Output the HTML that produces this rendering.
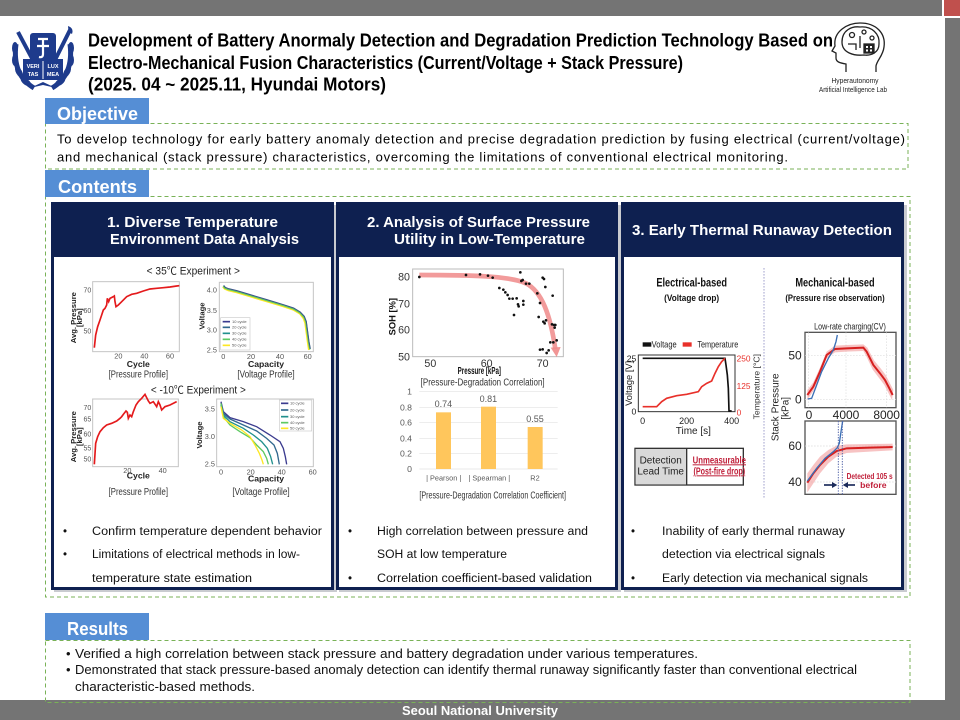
<!DOCTYPE html>
<html><head><meta charset="utf-8"><style>
html,body{margin:0;padding:0;background:#fff;}
svg{display:block;}
text{font-family:"Liberation Sans","Noto Sans CJK KR","DejaVu Sans",sans-serif;}
</style></head><body>
<svg width="960" height="720" viewBox="0 0 960 720" xmlns="http://www.w3.org/2000/svg" font-family="'Liberation Sans', 'Noto Sans CJK KR', 'DejaVu Sans', sans-serif">
<rect x="0" y="0" width="960" height="720" fill="#fff"/>
<!-- frame bars -->
<rect x="0" y="0" width="942" height="16" fill="#747474"/>
<rect x="944" y="0" width="16" height="16" fill="#c0504d"/>
<rect x="945" y="18" width="15" height="684" fill="#747474"/>
<rect x="0" y="700" width="960" height="20" fill="#747474"/>
<text x="480" y="715" text-anchor="middle" font-size="12.5" font-weight="bold" fill="#fff" textLength="156" lengthAdjust="spacingAndGlyphs">Seoul National University</text>

<!-- SNU emblem -->
<g fill="none" stroke="#1e3b8c">
<path d="M34,88 Q12,75 16,44" stroke-width="5"/>
<path d="M52,88 Q74,75 70,44" stroke-width="5"/>
<path d="M18,32 L36,66" stroke-width="4"/>
<path d="M70,30 L52,66" stroke-width="4"/>
</g>
<g fill="#1e3b8c">
<ellipse cx="15" cy="60" rx="3" ry="6"/><ellipse cx="19" cy="72" rx="3" ry="6" transform="rotate(-30 19 72)"/><ellipse cx="26" cy="82" rx="3" ry="6" transform="rotate(-55 26 82)"/><ellipse cx="15" cy="48" rx="3" ry="6"/>
<ellipse cx="71" cy="60" rx="3" ry="6"/><ellipse cx="67" cy="72" rx="3" ry="6" transform="rotate(30 67 72)"/><ellipse cx="60" cy="82" rx="3" ry="6" transform="rotate(55 60 82)"/><ellipse cx="71" cy="48" rx="3" ry="6"/>
<path d="M68,26 Q74,28 72,34 Q68,32 68,26Z"/>
<rect x="30" y="33" width="26" height="30" rx="3"/>
<rect x="23" y="59" width="40" height="21"/>
<path d="M30,88 L43,82 L56,88 L43,85Z"/>
</g>
<path d="M38,39 L48,39 M43,39 L43,54 Q43,58 39,57 M37,46 L49,46" stroke="#fff" stroke-width="2.2" fill="none"/>
<line x1="43" y1="61" x2="43" y2="79" stroke="#fff" stroke-width="1"/>
<text x="33" y="68" font-size="5.5" fill="#fff" text-anchor="middle" font-weight="bold">VERI</text>
<text x="53" y="68" font-size="5.5" fill="#fff" text-anchor="middle" font-weight="bold">LUX</text>
<text x="33" y="76" font-size="5.5" fill="#fff" text-anchor="middle" font-weight="bold">TAS</text>
<text x="53" y="76" font-size="5.5" fill="#fff" text-anchor="middle" font-weight="bold">MEA</text>

<!-- Title -->
<text x="88" y="46.5" font-size="18" font-weight="bold" fill="#000" textLength="745" lengthAdjust="spacingAndGlyphs">Development of Battery Anormaly Detection and Degradation Prediction Technology Based on</text>
<text x="88" y="69" font-size="18" font-weight="bold" fill="#000" textLength="595" lengthAdjust="spacingAndGlyphs">Electro-Mechanical Fusion Characteristics (Current/Voltage + Stack Pressure)</text>
<text x="88" y="90.5" font-size="18" font-weight="bold" fill="#000" textLength="298" lengthAdjust="spacingAndGlyphs">(2025. 04 ~ 2025.11, Hyundai Motors)</text>

<!-- Brain logo -->
<g fill="none" stroke="#222" stroke-width="1.3">
<path d="M846,72 L846,64 C840,63 836,62 836,58 L836,53 L832,51 L835,46 C833,31 848,23 860,23 C876,23 886,33 884,47 C883,56 877,60 876,66 L876,72"/>
<path d="M842,42 C842,30 852,26 860,27 C872,26 880,34 879,44 C879,52 872,56 864,55 C854,56 842,53 842,42Z"/>
<circle cx="852" cy="35" r="2.5"/><circle cx="864" cy="32" r="2"/><circle cx="872" cy="38" r="2"/>
<path d="M848,44 L856,44 L856,50 M860,36 L860,48 M868,44 L868,50"/>
<rect x="864" y="44" width="10" height="9" fill="#222"/>
</g>
<rect x="866" y="46" width="2" height="2" fill="#fff"/><rect x="870" y="46" width="2" height="2" fill="#fff"/><rect x="866" y="49.5" width="2" height="2" fill="#fff"/><rect x="870" y="49.5" width="2" height="2" fill="#fff"/>
<text x="855" y="83" font-size="7.5" text-anchor="middle" fill="#222" textLength="47" lengthAdjust="spacingAndGlyphs">Hyperautonomy</text>
<text x="853" y="92" font-size="7.5" text-anchor="middle" fill="#222" textLength="68" lengthAdjust="spacingAndGlyphs">Artificial Intelligence Lab</text>

<!-- Objective -->
<rect x="45.5" y="123.5" width="862.5" height="45.5" fill="none" stroke="#79b257" stroke-width="1" stroke-dasharray="4,3"/>
<rect x="45" y="98" width="104" height="26" fill="#558ed5"/>
<text x="57" y="120" font-size="18" font-weight="bold" fill="#fff" textLength="81" lengthAdjust="spacingAndGlyphs">Objective</text>
<g font-family="'Liberation Sans', Arial, sans-serif" font-size="13" fill="#000">
<text x="57" y="143.5" textLength="848" lengthAdjust="spacing">To develop technology for early battery anomaly detection and precise degradation prediction by fusing electrical (current/voltage)</text>
<text x="57" y="161.5" textLength="731" lengthAdjust="spacing">and mechanical (stack pressure) characteristics, overcoming the limitations of conventional electrical monitoring.</text>
</g>

<!-- Contents -->
<rect x="45.5" y="196.5" width="864.5" height="400.5" fill="none" stroke="#79b257" stroke-width="1" stroke-dasharray="4,3"/>
<rect x="45" y="170" width="104" height="27" fill="#558ed5"/>
<text x="58" y="193" font-size="18" font-weight="bold" fill="#fff" textLength="79" lengthAdjust="spacingAndGlyphs">Contents</text>

<!-- Panels -->
<g>
<rect x="54" y="205" width="283" height="387" fill="#c9cbd0"/>
<rect x="52.5" y="203.5" width="280" height="385" fill="#fff" stroke="#0e2050" stroke-width="3"/>
<rect x="51" y="202" width="283" height="55" fill="#0e2050"/>
<rect x="339" y="205" width="282" height="387" fill="#c9cbd0"/>
<rect x="337.5" y="203.5" width="279" height="385" fill="#fff" stroke="#0e2050" stroke-width="3"/>
<rect x="336" y="202" width="282" height="55" fill="#0e2050"/>
<rect x="624" y="205" width="283" height="387" fill="#c9cbd0"/>
<rect x="622.5" y="203.5" width="280" height="385" fill="#fff" stroke="#0e2050" stroke-width="3"/>
<rect x="621" y="202" width="283" height="55" fill="#0e2050"/>
</g>
<text x="107" y="227" font-size="15" font-weight="bold" fill="#fff" textLength="171" lengthAdjust="spacingAndGlyphs">1.  Diverse Temperature</text>
<text x="110" y="244" font-size="15" font-weight="bold" fill="#fff" textLength="189" lengthAdjust="spacingAndGlyphs">Environment Data Analysis</text>
<text x="367" y="227" font-size="15" font-weight="bold" fill="#fff" textLength="223" lengthAdjust="spacingAndGlyphs">2.  Analysis of Surface Pressure</text>
<text x="394" y="244" font-size="15" font-weight="bold" fill="#fff" textLength="191" lengthAdjust="spacingAndGlyphs">Utility in Low-Temperature</text>
<text x="632" y="235" font-size="15" font-weight="bold" fill="#fff" textLength="260" lengthAdjust="spacingAndGlyphs">3.  Early Thermal Runaway Detection</text>

<!-- Panel 1 charts (zoom coords) -->
<g transform="translate(50,255) scale(0.33333)">
<text x="430" y="58" font-size="32" text-anchor="middle" fill="#222" textLength="280" lengthAdjust="spacingAndGlyphs">&lt; 35℃ Experiment &gt;</text>
<!-- chart 1 -->
<rect x="128" y="80" width="260" height="210" fill="#fff" stroke="#c4c4c4" stroke-width="3"/>
<g font-size="21" fill="#555" text-anchor="end"><text x="124" y="112">70</text><text x="124" y="174">60</text><text x="124" y="235">50</text></g>
<g font-size="22" fill="#555" text-anchor="middle"><text x="205" y="310">20</text><text x="283" y="310">40</text><text x="360" y="310">60</text></g>
<text x="265" y="336" font-size="26" font-weight="bold" text-anchor="middle" fill="#222">Cycle</text>
<text transform="translate(78,188) rotate(-90)" font-size="23" font-weight="bold" text-anchor="middle" fill="#222">Avg. Pressure</text>
<text transform="translate(96,188) rotate(-90)" font-size="23" font-weight="bold" text-anchor="middle" fill="#222">[kPa]</text>
<polyline fill="none" stroke="#e41a1c" stroke-width="5" points="133,278 137,240 143,215 150,195 155,180 160,165 165,160 170,150 172,130 176,140 180,130 190,125 193,123 195,140 198,155 205,150 215,140 230,125 245,118 260,115 280,108 300,102 320,100 340,98 360,96 380,93 388,92"/>
<text x="265" y="368" font-size="30" text-anchor="middle" fill="#333" textLength="178" lengthAdjust="spacingAndGlyphs">[Pressure Profile]</text>
<!-- chart 2 -->
<rect x="508" y="82" width="282" height="208" fill="#fff" stroke="#c4c4c4" stroke-width="3"/>
<g font-size="22" fill="#555" text-anchor="end"><text x="501" y="112">4.0</text><text x="501" y="174">3.5</text><text x="501" y="232">3.0</text><text x="501" y="293">2.5</text></g>
<g font-size="22" fill="#555" text-anchor="middle"><text x="520" y="312">0</text><text x="603" y="312">20</text><text x="690" y="312">40</text><text x="773" y="312">60</text></g>
<text x="648" y="336" font-size="26" font-weight="bold" text-anchor="middle" fill="#222">Capacity</text>
<text transform="translate(463,183) rotate(-90)" font-size="23" font-weight="bold" text-anchor="middle" fill="#222">Voltage</text>
<polyline fill="none" stroke="#fde725" stroke-width="6" points="519,95 524,101 535,106 560,112 600,124 650,139 700,154 730,164 750,176 761,190 766,205 770,235 774,265 777,285"/>
<polyline fill="none" stroke="#5ec962" stroke-width="5" points="520,93 525,99 535,103 560,109 600,121 650,136 700,151 730,161 750,173 762,186 768,201 772,231 776,261 780,283"/>
<polyline fill="none" stroke="#3b528b" stroke-width="3" points="521,91 526,97 536,101 561,107 601,119 651,134 701,149 731,159 751,171 763,184 769,199 773,229 777,259 781,281"/>
<rect x="512" y="188" width="88" height="97" fill="#fff" stroke="#ccc" stroke-width="2"/>
<g stroke-width="5"><line x1="518" y1="200" x2="540" y2="200" stroke="#3b3b8f"/><line x1="518" y1="217" x2="540" y2="217" stroke="#31688e"/><line x1="518" y1="235" x2="540" y2="235" stroke="#21908d"/><line x1="518" y1="253" x2="540" y2="253" stroke="#5ec962"/><line x1="518" y1="271" x2="540" y2="271" stroke="#fde725"/></g>
<g font-size="12" fill="#555"><text x="546" y="204">10 cycle</text><text x="546" y="221">20 cycle</text><text x="546" y="239">30 cycle</text><text x="546" y="257">40 cycle</text><text x="546" y="275">50 cycle</text></g>
<text x="648" y="368" font-size="30" text-anchor="middle" fill="#333" textLength="172" lengthAdjust="spacingAndGlyphs">[Voltage Profile]</text>

<text x="445" y="415" font-size="32" text-anchor="middle" fill="#222" textLength="285" lengthAdjust="spacingAndGlyphs">&lt; -10℃ Experiment &gt;</text>
<!-- chart 3 -->
<rect x="128" y="432" width="257" height="203" fill="#fff" stroke="#c4c4c4" stroke-width="3"/>
<g font-size="21" fill="#555" text-anchor="end"><text x="124" y="465">70</text><text x="124" y="499">65</text><text x="124" y="544">60</text><text x="124" y="587">55</text><text x="124" y="619">50</text></g>
<g font-size="22" fill="#555" text-anchor="middle"><text x="232" y="654">20</text><text x="338" y="654">40</text></g>
<text x="265" y="670" font-size="26" font-weight="bold" text-anchor="middle" fill="#222">Cycle</text>
<text transform="translate(78,545) rotate(-90)" font-size="23" font-weight="bold" text-anchor="middle" fill="#222">Avg. Pressure</text>
<text transform="translate(96,545) rotate(-90)" font-size="23" font-weight="bold" text-anchor="middle" fill="#222">[kPa]</text>
<polyline fill="none" stroke="#e41a1c" stroke-width="5" points="133,628 137,565 143,545 150,530 160,518 170,510 185,505 200,498 210,490 215,485 220,478 228,468 232,472 235,490 240,480 245,485 250,470 258,450 265,440 275,430 285,418 295,438 300,445 310,440 320,455 325,440 330,450 335,465 345,455 360,450 380,440"/>
<text x="265" y="720" font-size="30" text-anchor="middle" fill="#333" textLength="178" lengthAdjust="spacingAndGlyphs">[Pressure Profile]</text>
<!-- chart 4 -->
<rect x="500" y="432" width="290" height="203" fill="#fff" stroke="#c4c4c4" stroke-width="3"/>
<g font-size="22" fill="#555" text-anchor="end"><text x="495" y="469">3.5</text><text x="495" y="552">3.0</text><text x="495" y="634">2.5</text></g>
<g font-size="22" fill="#555" text-anchor="middle"><text x="513" y="658">0</text><text x="602" y="658">20</text><text x="695" y="658">40</text><text x="788" y="658">60</text></g>
<text x="648" y="680" font-size="26" font-weight="bold" text-anchor="middle" fill="#222">Capacity</text>
<text transform="translate(456,540) rotate(-90)" font-size="23" font-weight="bold" text-anchor="middle" fill="#222">Voltage</text>
<polyline fill="none" stroke="#3b3b8f" stroke-width="4" points="513,440 520,470 540,488 580,500 620,515 660,540 690,560 700,580 706,605 710,628"/>
<polyline fill="none" stroke="#31688e" stroke-width="4" points="513,445 520,475 540,492 580,510 620,528 650,550 672,570 682,595 688,628"/>
<polyline fill="none" stroke="#21908d" stroke-width="4" points="513,450 520,480 540,500 580,520 610,540 635,560 652,580 662,605 668,628"/>
<polyline fill="none" stroke="#5ec962" stroke-width="4" points="513,445 520,485 540,510 570,530 600,548 620,570 640,590 650,610 655,628"/>
<polyline fill="none" stroke="#fde725" stroke-width="4" points="513,455 520,490 540,505 575,525 600,545 615,570 628,595 636,615 640,628"/>
<rect x="688" y="435" width="97" height="93" fill="#fff" stroke="#ccc" stroke-width="2"/>
<g stroke-width="5"><line x1="693" y1="445" x2="715" y2="445" stroke="#3b3b8f"/><line x1="693" y1="465" x2="715" y2="465" stroke="#31688e"/><line x1="693" y1="485" x2="715" y2="485" stroke="#21908d"/><line x1="693" y1="503" x2="715" y2="503" stroke="#5ec962"/><line x1="693" y1="520" x2="715" y2="520" stroke="#fde725"/></g>
<g font-size="12" fill="#555"><text x="720" y="449">10 cycle</text><text x="720" y="469">20 cycle</text><text x="720" y="489">30 cycle</text><text x="720" y="507">40 cycle</text><text x="720" y="524">50 cycle</text></g>
<text x="633" y="720" font-size="30" text-anchor="middle" fill="#333" textLength="172" lengthAdjust="spacingAndGlyphs">[Voltage Profile]</text>
</g>

<!-- Panel 2 charts -->
<g transform="translate(336,255) scale(0.33333)">
<rect x="230" y="42" width="452" height="263" fill="#fff" stroke="#bbb" stroke-width="3"/>
<g font-size="32" fill="#333" text-anchor="end"><text x="222" y="77">80</text><text x="222" y="157">70</text><text x="222" y="236">60</text><text x="222" y="316">50</text></g>
<g font-size="32" fill="#333" text-anchor="middle"><text x="283" y="336">50</text><text x="452" y="336">60</text><text x="620" y="336">70</text></g>
<text x="430" y="357" font-size="30" font-weight="bold" text-anchor="middle" fill="#111" textLength="130" lengthAdjust="spacingAndGlyphs">Pressure [kPa]</text>
<text transform="translate(178,185) rotate(-90)" font-size="28" font-weight="bold" text-anchor="middle" fill="#111">SOH [%]</text>
<path d="M250,60 C400,60 520,62 570,85 C618,110 643,180 658,282" fill="none" stroke="#f08a8a" stroke-width="14" opacity="0.85"/>
<polygon points="644,278 674,276 662,306" fill="#f08a8a" opacity="0.9"/>
<g fill="#111">
<circle cx="250" cy="66" r="4"/><circle cx="390" cy="60" r="4"/><circle cx="432" cy="58" r="4"/><circle cx="456" cy="62" r="4"/><circle cx="470" cy="68" r="4"/><circle cx="490" cy="99" r="4"/><circle cx="502" cy="104" r="4"/><circle cx="508" cy="112" r="4"/><circle cx="515" cy="120" r="4"/><circle cx="520" cy="131" r="4"/><circle cx="530" cy="131" r="4"/><circle cx="534" cy="180" r="4"/><circle cx="542" cy="130" r="4"/><circle cx="546" cy="148" r="4"/><circle cx="548" cy="154" r="4"/><circle cx="553" cy="52" r="4"/><circle cx="556" cy="78" r="4"/><circle cx="560" cy="75" r="4"/><circle cx="562" cy="138" r="4"/><circle cx="562" cy="149" r="4"/><circle cx="570" cy="86" r="4"/><circle cx="580" cy="86" r="4"/><circle cx="604" cy="115" r="4"/><circle cx="608" cy="186" r="4"/><circle cx="612" cy="144" r="4"/><circle cx="612" cy="284" r="4"/><circle cx="620" cy="283" r="4"/><circle cx="622" cy="200" r="4"/><circle cx="620" cy="68" r="4"/><circle cx="624" cy="72" r="4"/><circle cx="628" cy="96" r="4"/><circle cx="626" cy="205" r="4"/><circle cx="630" cy="196" r="4"/><circle cx="632" cy="294" r="4"/><circle cx="638" cy="286" r="4"/><circle cx="643" cy="262" r="4"/><circle cx="648" cy="208" r="4"/><circle cx="650" cy="122" r="4"/><circle cx="654" cy="210" r="4"/><circle cx="656" cy="218" r="4"/><circle cx="658" cy="210" r="4"/><circle cx="652" cy="262" r="4"/><circle cx="662" cy="256" r="4"/>
</g>
<text x="440" y="392" font-size="30" text-anchor="middle" fill="#333" textLength="372" lengthAdjust="spacingAndGlyphs">[Pressure-Degradation Correlation]</text>
<!-- bar chart -->
<g stroke="#e2e2e2" stroke-width="2"><line x1="250" y1="410" x2="665" y2="410"/><line x1="250" y1="458" x2="665" y2="458"/><line x1="250" y1="503" x2="665" y2="503"/><line x1="250" y1="550" x2="665" y2="550"/><line x1="250" y1="596" x2="665" y2="596"/><line x1="250" y1="642" x2="665" y2="642"/></g>
<g font-size="26" fill="#595959" text-anchor="end"><text x="228" y="419">1</text><text x="228" y="467">0.8</text><text x="228" y="512">0.6</text><text x="228" y="559">0.4</text><text x="228" y="605">0.2</text><text x="228" y="651">0</text></g>
<g fill="#ffc65c"><rect x="300" y="472" width="45" height="170"/><rect x="435" y="455" width="45" height="187"/><rect x="575" y="516" width="45" height="126"/></g>
<g font-size="27" fill="#595959" text-anchor="middle"><text x="322" y="456">0.74</text><text x="457" y="441">0.81</text><text x="597" y="501">0.55</text></g>
<g font-size="22" fill="#595959" text-anchor="middle"><text x="323" y="677">| Pearson |</text><text x="460" y="677">| Spearman |</text><text x="597" y="677">R2</text></g>
<text x="470" y="730" font-size="30" text-anchor="middle" fill="#333" textLength="440" lengthAdjust="spacingAndGlyphs">[Pressure-Degradation Correlation Coefficient]</text>
</g>

<!-- Panel 3 charts -->
<g transform="translate(620,255) scale(0.33333)">
<line x1="432" y1="40" x2="432" y2="730" stroke="#6a6ab0" stroke-width="3" stroke-dasharray="3,6"/>
<text x="215" y="94" font-size="36" font-weight="bold" text-anchor="middle" fill="#111" textLength="212" lengthAdjust="spacingAndGlyphs">Electrical-based</text>
<text x="215" y="138" font-size="27" font-weight="bold" text-anchor="middle" fill="#111" textLength="165" lengthAdjust="spacingAndGlyphs">(Voltage drop)</text>
<text x="645" y="94" font-size="36" font-weight="bold" text-anchor="middle" fill="#111" textLength="238" lengthAdjust="spacingAndGlyphs">Mechanical-based</text>
<text x="645" y="138" font-size="27" font-weight="bold" text-anchor="middle" fill="#111" textLength="298" lengthAdjust="spacingAndGlyphs">(Pressure rise observation)</text>
<!-- electrical chart -->
<rect x="68" y="262" width="26" height="13" fill="#111"/>
<text x="95" y="278" font-size="28" fill="#222" textLength="75" lengthAdjust="spacingAndGlyphs">Voltage</text>
<rect x="188" y="262" width="27" height="13" fill="#e8302a"/>
<text x="232" y="278" font-size="28" fill="#222" textLength="123" lengthAdjust="spacingAndGlyphs">Temperature</text>
<rect x="55" y="300" width="290" height="170" fill="#fff" stroke="#333" stroke-width="3"/>
<g font-size="26" fill="#222" text-anchor="end"><text x="49" y="320">25</text><text x="49" y="478">0</text></g>
<g font-size="25" fill="#e8302a"><text x="350" y="320">250</text><text x="350" y="402">125</text><text x="350" y="482">0</text></g>
<g font-size="27" fill="#222" text-anchor="middle"><text x="68" y="507">0</text><text x="200" y="507">200</text><text x="335" y="507">400</text></g>
<text x="220" y="537" font-size="30" text-anchor="middle" fill="#222">Time [s]</text>
<text transform="translate(36,385) rotate(-90)" font-size="28" text-anchor="middle" fill="#222">Voltage [V]</text>
<text transform="translate(418,395) rotate(-90)" font-size="26" text-anchor="middle" fill="#333">Temperature [°C]</text>
<polyline fill="none" stroke="#111" stroke-width="5" points="68,310 315,310 318,330 322,360 325,400 327,468 335,468"/>
<polyline fill="none" stroke="#e8302a" stroke-width="5" points="68,455 110,455 125,440 140,430 170,422 200,418 235,410 245,395 260,385 275,378 285,355 295,335 305,320 315,310"/>
<rect x="45" y="580" width="325" height="110" fill="#fff" stroke="#333" stroke-width="4"/>
<rect x="47" y="582" width="153" height="106" fill="#d9d9d9"/>
<line x1="200" y1="580" x2="200" y2="690" stroke="#333" stroke-width="4"/>
<text x="122" y="625" font-size="30" text-anchor="middle" fill="#222">Detection</text>
<text x="122" y="658" font-size="30" text-anchor="middle" fill="#222">Lead Time</text>
<text x="298" y="625" font-size="30" font-weight="bold" text-anchor="middle" fill="#c0203a" text-decoration="underline" textLength="160" lengthAdjust="spacingAndGlyphs">Unmeasurable</text>
<text x="298" y="658" font-size="30" font-weight="bold" text-anchor="middle" fill="#c0203a" text-decoration="underline" textLength="155" lengthAdjust="spacingAndGlyphs">(Post-fire drop)</text>
<!-- mechanical top -->
<text x="690" y="224" font-size="28" text-anchor="middle" fill="#222" textLength="215" lengthAdjust="spacingAndGlyphs">Low-rate charging(CV)</text>
<rect x="555" y="232" width="273" height="226" fill="#fff" stroke="#555" stroke-width="4"/>
<g stroke="#ddd" stroke-width="2" stroke-dasharray="5,4"><line x1="555" y1="302" x2="828" y2="302"/><line x1="555" y1="433" x2="828" y2="433"/><line x1="565" y1="232" x2="565" y2="458"/><line x1="678" y1="232" x2="678" y2="458"/><line x1="800" y1="232" x2="800" y2="458"/></g>
<g font-size="36" fill="#222" text-anchor="end"><text x="545" y="314">50</text><text x="545" y="445">0</text></g>
<g font-size="36" fill="#222" text-anchor="middle"><text x="567" y="492">0</text><text x="678" y="492">4000</text><text x="800" y="492">8000</text></g>
<polygon fill="#f4a9a9" opacity="0.7" points="562,405 580,382 600,338 620,290 645,272 680,270 730,268 742,278 762,316 782,340 797,360 810,385 820,405 816,435 806,415 793,390 778,370 758,344 738,302 730,288 680,290 645,292 620,310 600,362 580,408 562,435"/>
<polyline fill="none" stroke="#d62020" stroke-width="6" points="562,420 580,395 600,350 620,300 645,282 680,280 730,278 740,290 760,330 780,355 795,375 808,400 818,420"/>
<polyline fill="none" stroke="#3a6fb5" stroke-width="4" points="563,432 575,430 590,390 605,350 625,310 640,285 648,260 652,240"/>
<!-- mechanical bottom -->
<rect x="555" y="498" width="273" height="220" fill="#fff" stroke="#555" stroke-width="4"/>
<g stroke="#ddd" stroke-width="2" stroke-dasharray="5,4"><line x1="555" y1="573" x2="828" y2="573"/><line x1="555" y1="681" x2="828" y2="681"/></g>
<g font-size="36" fill="#222" text-anchor="end"><text x="545" y="585">60</text><text x="545" y="693">40</text></g>
<polygon fill="#f4a9a9" opacity="0.7" points="562,655 580,630 600,605 625,585 650,572 680,568 750,567 818,566 818,586 750,590 680,594 650,605 625,625 600,655 580,685 562,712"/>
<polyline fill="none" stroke="#d62020" stroke-width="6" points="562,683 580,655 600,630 625,605 650,588 680,580 750,578 818,576"/>
<polyline fill="none" stroke="#3a6fb5" stroke-width="4" points="562,678 590,640 615,610 640,590 652,578 658,565 663,530 668,498"/>
<g stroke="#5566aa" stroke-width="3" stroke-dasharray="4,4"><line x1="655" y1="498" x2="655" y2="718"/><line x1="667" y1="498" x2="667" y2="718"/></g>
<g stroke="#1a2a5a" stroke-width="5" fill="#1a2a5a"><line x1="612" y1="690" x2="640" y2="690"/><line x1="705" y1="690" x2="680" y2="690"/></g>
<polygon points="652,690 636,681 636,699" fill="#1a2a5a"/><polygon points="668,690 684,681 684,699" fill="#1a2a5a"/>
<text x="749" y="672" font-size="26" font-weight="bold" text-anchor="middle" fill="#c0203a" textLength="138" lengthAdjust="spacingAndGlyphs">Detected 105 s</text>
<text x="760" y="699" font-size="26" font-weight="bold" text-anchor="middle" fill="#c0203a">before</text>
<text transform="translate(475,457) rotate(-90)" font-size="30" text-anchor="middle" fill="#222">Stack Pressure</text>
<text transform="translate(505,460) rotate(-90)" font-size="30" text-anchor="middle" fill="#222">[kPa]</text>
</g>

<!-- Panel bullets -->
<g font-size="11.5" fill="#111" font-family="'Liberation Sans', sans-serif">
<text x="63" y="535">•</text>
<text x="92" y="535" textLength="230" lengthAdjust="spacingAndGlyphs">Confirm temperature  dependent  behavior</text>
<text x="63" y="558">•</text>
<text x="92" y="558" textLength="208" lengthAdjust="spacingAndGlyphs">Limitations of electrical methods in low-</text>
<text x="92" y="582" textLength="160" lengthAdjust="spacingAndGlyphs">temperature  state estimation</text>
<text x="348" y="535">•</text>
<text x="377" y="535" textLength="211" lengthAdjust="spacingAndGlyphs">High correlation between pressure and</text>
<text x="377" y="558" textLength="130" lengthAdjust="spacingAndGlyphs">SOH at low temperature</text>
<text x="348" y="582">•</text>
<text x="377" y="582" textLength="215" lengthAdjust="spacingAndGlyphs">Correlation coefficient-based validation</text>
<text x="631" y="535">•</text>
<text x="662" y="535" textLength="183" lengthAdjust="spacingAndGlyphs">Inability of early thermal runaway</text>
<text x="662" y="558" textLength="163" lengthAdjust="spacingAndGlyphs">detection  via electrical signals</text>
<text x="631" y="582">•</text>
<text x="662" y="582" textLength="206" lengthAdjust="spacingAndGlyphs">Early detection via mechanical signals</text>
</g>

<!-- Results -->
<rect x="45.5" y="640.5" width="864.5" height="62" fill="none" stroke="#79b257" stroke-width="1" stroke-dasharray="4,3"/>
<rect x="45" y="613" width="104" height="27" fill="#558ed5"/>
<text x="67" y="635" font-size="18" font-weight="bold" fill="#fff" textLength="61" lengthAdjust="spacingAndGlyphs">Results</text>
<g font-size="13" fill="#111" font-family="'Liberation Sans', sans-serif">
<text x="66" y="658">•</text>
<text x="75" y="658" textLength="623" lengthAdjust="spacingAndGlyphs">Verified a high correlation between stack pressure and battery degradation under various temperatures.</text>
<text x="66" y="674">•</text>
<text x="75" y="674" textLength="782" lengthAdjust="spacingAndGlyphs">Demonstrated that stack pressure-based anomaly detection can identify thermal runaway significantly faster than conventional electrical</text>
<text x="75" y="691" textLength="180" lengthAdjust="spacingAndGlyphs">characteristic-based methods.</text>
</g>
</svg>
</body></html>
